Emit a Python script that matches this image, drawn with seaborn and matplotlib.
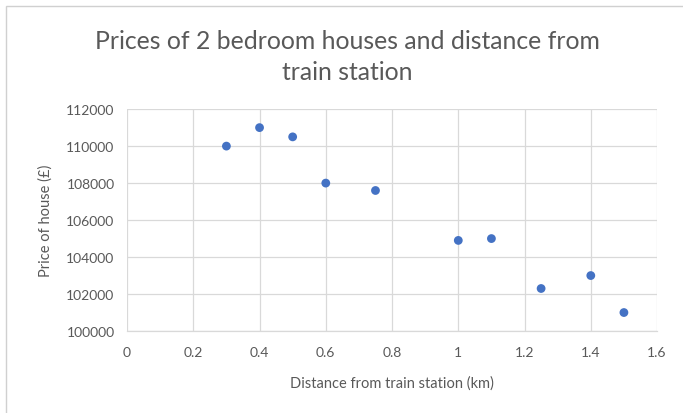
import matplotlib
matplotlib.use("Agg")
import matplotlib.pyplot as plt
import seaborn as sns
import pandas as pd
from matplotlib.patches import Rectangle

# House prices against distance from the station
distance_km = [0.3, 0.4, 0.5, 0.6, 0.75, 1.0, 1.1, 1.25, 1.4, 1.5]
price_gbp = [110000, 111000, 110500, 108000, 107600, 104900, 105000, 102300, 103000, 101000]
x_ticks = [0, 0.2, 0.4, 0.6, 0.8, 1, 1.2, 1.4, 1.6]
x_tick_labels = ["0", "0.2", "0.4", "0.6", "0.8", "1", "1.2", "1.4", "1.6"]
y_ticks = [100000, 102000, 104000, 106000, 108000, 110000, 112000]

df = pd.DataFrame({"distance": distance_km, "price": price_gbp})

sns.set_theme(style="white")
plt.rcParams["font.family"] = ["Lato", "DejaVu Sans"]

text_col = "#595959"
grid_col = "#d9d9d9"

fig = plt.figure(figsize=(6.83, 4.14), dpi=100)
ax = fig.add_axes([0.186, 0.198, 0.776, 0.536])

# chart frame
fig.patches.append(Rectangle((0.009, -0.05), 1.2, 1.033, transform=fig.transFigure,
                             fill=False, edgecolor="#d0d0d0", linewidth=1.0))

sns.scatterplot(data=df, x="distance", y="price", ax=ax, color="#4472C4",
                s=40, edgecolor="none", zorder=3)

ax.set_xlim(0, 1.6)
ax.set_ylim(100000, 112000)
ax.set_xticks(x_ticks)
ax.set_xticklabels(x_tick_labels)
ax.set_yticks(y_ticks)
ax.set_yticklabels([str(v) for v in y_ticks])

ax.grid(True, color=grid_col, linewidth=0.9)
ax.set_axisbelow(True)
for side in ["top", "right", "left"]:
    ax.spines[side].set_visible(False)
ax.spines["bottom"].set_color(grid_col)
ax.spines["bottom"].set_linewidth(0.9)

ax.tick_params(axis="both", colors=text_col, labelsize=10, length=0)
ax.tick_params(axis="x", pad=11)
ax.tick_params(axis="y", pad=9)
ax.set_xlabel("Distance from train station (km)", color=text_col, fontsize=10.5, labelpad=12)
ax.set_ylabel("Price of house (£)", color=text_col, fontsize=10.5, labelpad=10)

fig.text(0.508, 0.862, "Prices of 2 bedroom houses and distance from\ntrain station",
         ha="center", va="center", fontsize=17.8, color=text_col, linespacing=1.45)

fig.savefig("out.png", dpi=100, facecolor="white")
